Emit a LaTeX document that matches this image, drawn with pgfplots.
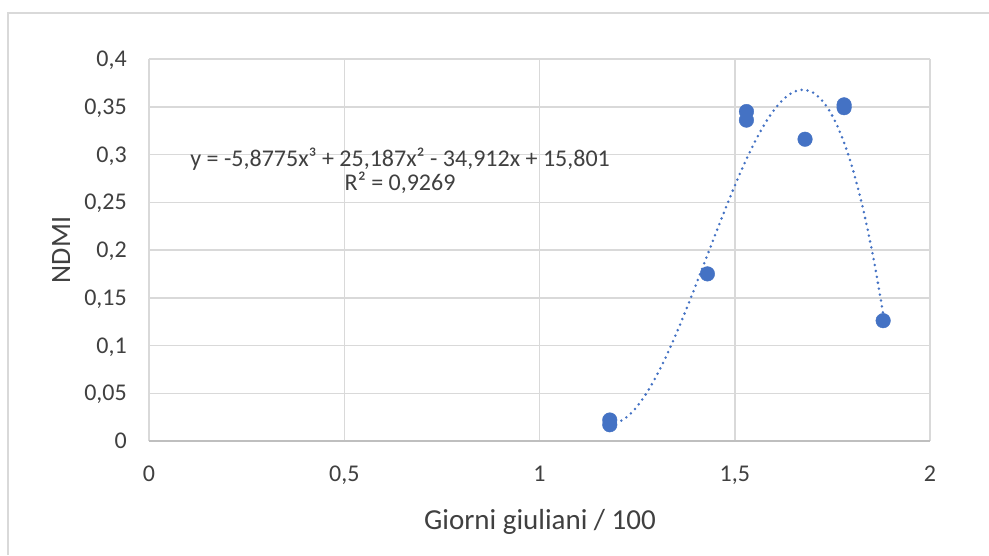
\documentclass[border=0pt]{standalone}
\usepackage{fontspec}
\setmainfont{Carlito}
\usepackage{pgfplots}
\pgfplotsset{compat=1.18}
\definecolor{ptblue}{HTML}{4472C4}
\definecolor{gridgray}{HTML}{D9D9D9}
\definecolor{axisgray}{HTML}{BFBFBF}
\definecolor{framegray}{HTML}{D9D9D9}
\definecolor{textgray}{HTML}{404040}
\begin{document}
\begin{tikzpicture}[x=1pt,y=1pt]
\path[use as bounding box, fill=white] (0,0) rectangle (989,-555);
\draw[framegray, line width=1.5pt] (8,-555) -- (8,-13) -- (989,-13);
\begin{axis}[
  at={(149pt,-441pt)}, anchor=south west,
  scale only axis, width=781pt, height=382pt,
  xmin=0, xmax=2, ymin=0, ymax=0.4,
  xtick={0,0.5,1,1.5,2},
  ytick={0,0.05,0.1,0.15,0.2,0.25,0.3,0.35,0.4},
  scaled ticks=false,
  grid=major,
  major grid style={gridgray, line width=1.5pt},
  major tick length=0pt,
  axis x line=bottom, axis y line=left,
  x axis line style={-, axisgray, line width=1.5pt},
  y axis line style={draw=none},
  /pgf/number format/fixed,
  /pgf/number format/precision=2,
  /pgf/number format/use comma,
  /pgf/number format/assume math mode=true,
  ticklabel style={font=\fontsize{24}{28}\selectfont, text=textgray, inner sep=0pt},
  xticklabel style={anchor=base, yshift=-40pt},
  yticklabel style={anchor=base east, xshift=-22pt, yshift=-7.5pt},
  clip=false,
]
% polynomial trendline, sampled points
\addplot[ptblue, line width=2.8pt, line cap=round, dash pattern=on 0pt off 6pt, smooth] coordinates {
(1.18,0.0183) (1.20,0.0196) (1.22,0.0240) (1.24,0.0315) (1.26,0.0416)
(1.28,0.0540) (1.30,0.0686) (1.32,0.0849) (1.34,0.1028) (1.36,0.1220)
(1.38,0.1421) (1.40,0.1629) (1.42,0.1841) (1.44,0.2054) (1.46,0.2265)
(1.48,0.2472) (1.50,0.2672) (1.52,0.2862) (1.54,0.3038) (1.56,0.3199)
(1.58,0.3342) (1.60,0.3463) (1.62,0.3560) (1.64,0.3630) (1.66,0.3670)
(1.68,0.3677) (1.70,0.3649) (1.72,0.3582) (1.74,0.3475) (1.76,0.3323)
(1.78,0.3125) (1.80,0.2877) (1.82,0.2577) (1.84,0.2221) (1.86,0.1808)
(1.88,0.1333)};
% observations
\addplot[only marks, mark=*, mark size=7.3pt, mark options={fill=ptblue, draw=ptblue}] coordinates {
(1.18,0.022) (1.18,0.017) (1.43,0.175) (1.53,0.345) (1.53,0.336)
(1.68,0.316) (1.78,0.352) (1.78,0.349) (1.88,0.126)};
\node[anchor=base, align=center, text=textgray, font=\fontsize{24}{24.7}\selectfont]
  at (axis cs:0.643,0.2621) {y = -5,8775x³ + 25,187x² - 34,912x + 15,801\\R² = 0,9269};
\end{axis}
\node[anchor=base, text=textgray, font=\fontsize{29}{34}\selectfont] at (540,-529) {Giorni giuliani / 100};
\node[anchor=base, rotate=90, text=textgray, font=\fontsize{28}{33}\selectfont] at (70,-250) {NDMI};
\end{tikzpicture}
\end{document}
